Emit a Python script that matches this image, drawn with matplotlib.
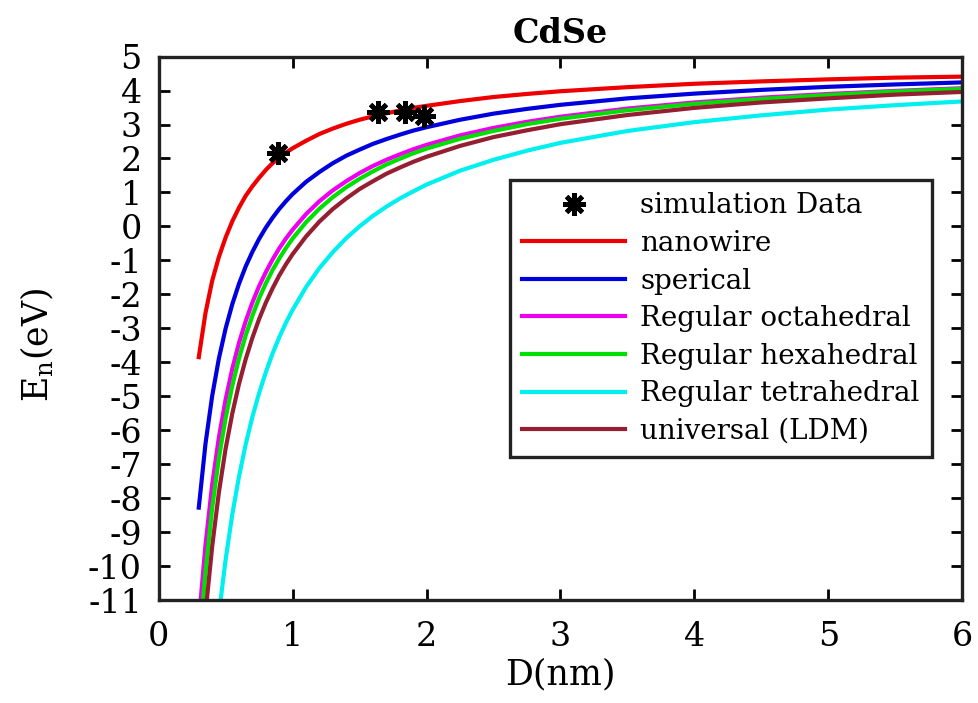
#!/usr/bin/env python3
"""Size dependence of the energy level E_n for CdSe nanostructures."""

import matplotlib
matplotlib.use("Agg")
import matplotlib.pyplot as plt

# values, D in nm and E_n in eV
d_nanowire = [0.30, 0.35, 0.40, 0.45, 0.50, 0.55, 0.60, 0.65, 0.70, 0.75, 0.80, 0.85, 0.90,
              0.95, 1.0, 1.1, 1.2, 1.3, 1.4, 1.5, 1.6, 1.7, 1.8, 1.9, 2.0, 2.25, 2.5, 2.75,
              3.0, 3.5, 4.0, 4.5, 5.0, 5.5, 6.0]
e_nanowire = [-3.85, -2.55, -1.60, -0.90, -0.33, 0.15, 0.55, 0.90, 1.18, 1.43, 1.66, 1.86, 2.02,
              2.17, 2.30, 2.52, 2.72, 2.88, 3.02, 3.14, 3.24, 3.33, 3.41, 3.49, 3.55, 3.69, 3.81, 3.90,
              3.98, 4.10, 4.20, 4.27, 4.33, 4.38, 4.41]

d_spherical = [0.30, 0.35, 0.40, 0.45, 0.50, 0.55, 0.60, 0.65, 0.70, 0.75, 0.80, 0.85, 0.90,
               0.95, 1.0, 1.1, 1.2, 1.3, 1.4, 1.5, 1.6, 1.7, 1.8, 1.9, 2.0, 2.25, 2.5, 2.75,
               3.0, 3.5, 4.0, 4.5, 5.0, 5.5, 6.0]
e_spherical = [-8.28, -6.40, -4.99, -3.89, -3.01, -2.29, -1.69, -1.18, -0.75, -0.37, -0.04, 0.25, 0.51,
               0.74, 0.95, 1.31, 1.60, 1.86, 2.08, 2.26, 2.43, 2.57, 2.70, 2.82, 2.92, 3.14, 3.32, 3.46,
               3.58, 3.77, 3.91, 4.02, 4.11, 4.18, 4.24]

d_octa = [0.314, 0.35, 0.40, 0.45, 0.50, 0.55, 0.60, 0.65, 0.70, 0.75, 0.80, 0.85, 0.90,
          0.95, 1.0, 1.1, 1.2, 1.3, 1.4, 1.5, 1.6, 1.7, 1.8, 1.9, 2.0, 2.25, 2.5, 2.75,
          3.0, 3.5, 4.0, 4.5, 5.0, 5.5, 6.0]
e_octa = [-11.0, -9.38, -7.60, -6.21, -5.10, -4.19, -3.43, -2.79, -2.24, -1.76, -1.35, -0.98, -0.65,
          -0.36, -0.10, 0.36, 0.74, 1.06, 1.33, 1.57, 1.78, 1.96, 2.12, 2.27, 2.40, 2.68, 2.90, 3.08,
          3.23, 3.47, 3.65, 3.79, 3.90, 3.99, 4.07]

d_hexa = [0.332, 0.35, 0.40, 0.45, 0.50, 0.55, 0.60, 0.65, 0.70, 0.75, 0.80, 0.85, 0.90,
          0.95, 1.0, 1.1, 1.2, 1.3, 1.4, 1.5, 1.6, 1.7, 1.8, 1.9, 2.0, 2.25, 2.5, 2.75,
          3.0, 3.5, 4.0, 4.5, 5.0, 5.5, 6.0]
e_hexa = [-11.0, -10.18, -8.29, -6.82, -5.65, -4.69, -3.89, -3.21, -2.63, -2.12, -1.68, -1.29, -0.95,
          -0.64, -0.36, 0.12, 0.52, 0.86, 1.15, 1.40, 1.62, 1.82, 1.99, 2.15, 2.29, 2.58, 2.81, 3.01,
          3.17, 3.42, 3.61, 3.75, 3.87, 3.97, 4.05]

d_tetra = [0.463, 0.50, 0.55, 0.60, 0.65, 0.70, 0.75, 0.80, 0.85, 0.90,
           0.95, 1.0, 1.1, 1.2, 1.3, 1.4, 1.5, 1.6, 1.7, 1.8, 1.9, 2.0, 2.25, 2.5, 2.75,
           3.0, 3.5, 4.0, 4.5, 5.0, 5.5, 6.0]
e_tetra = [-11.0, -9.82, -8.48, -7.37, -6.42, -5.61, -4.91, -4.30, -3.75, -3.27,
           -2.84, -2.46, -1.79, -1.23, -0.76, -0.35, 0.00, 0.31, 0.58, 0.82, 1.03, 1.23, 1.64, 1.96, 2.23,
           2.46, 2.81, 3.07, 3.27, 3.44, 3.57, 3.68]

d_ldm = [0.36, 0.40, 0.45, 0.50, 0.55, 0.60, 0.65, 0.70, 0.75, 0.80, 0.85, 0.90,
         0.95, 1.0, 1.1, 1.2, 1.3, 1.4, 1.5, 1.6, 1.7, 1.8, 1.9, 2.0, 2.25, 2.5, 2.75,
         3.0, 3.5, 4.0, 4.5, 5.0, 5.5, 6.0]
e_ldm = [-11.0, -9.42, -7.83, -6.55, -5.51, -4.64, -3.91, -3.28, -2.73, -2.25, -1.83, -1.45,
         -1.12, -0.82, -0.30, 0.14, 0.51, 0.82, 1.10, 1.33, 1.55, 1.73, 1.90, 2.05, 2.37, 2.63, 2.83,
         3.01, 3.28, 3.49, 3.65, 3.77, 3.88, 3.96]

d_sim = [0.89, 1.64, 1.84, 1.98]
e_sim = [2.17, 3.38, 3.38, 3.24]

plt.rcParams["font.family"] = ["DejaVu Serif"]
plt.rcParams["mathtext.fontset"] = "dejavuserif"
plt.rcParams["axes.unicode_minus"] = False

fig = plt.figure(figsize=(9.79, 7.03), dpi=100)
ax = fig.add_axes([0.162, 0.1465, 0.821, 0.773])

ax.plot(d_sim, e_sim, linestyle="none", marker=(8, 2, 0), markersize=16,
        markeredgewidth=3.4, color="black", label="simulation Data", zorder=5)
ax.plot(d_nanowire, e_nanowire, color="#ee0000", lw=3, label="nanowire")
ax.plot(d_spherical, e_spherical, color="#0000dd", lw=3, label="sperical")
ax.plot(d_octa, e_octa, color="#ee00ee", lw=3, label="Regular octahedral")
ax.plot(d_hexa, e_hexa, color="#00e000", lw=3, label="Regular hexahedral")
ax.plot(d_tetra, e_tetra, color="#00f0f0", lw=3, label="Regular tetrahedral")
ax.plot(d_ldm, e_ldm, color="#961e32", lw=3, label="universal (LDM)")

ax.set_xlim(0, 6)
ax.set_ylim(-11, 5)
ax.set_xticks(range(0, 7))
ax.set_yticks(range(-11, 6))
ax.tick_params(direction="in", length=8, width=2, labelsize=24,
               top=True, right=True)
ax.tick_params(axis="x", pad=15)
ax.tick_params(axis="y", pad=12)
for spine in ax.spines.values():
    spine.set_linewidth(2.4)
    spine.set_color("#222222")

ax.set_xlabel("D(nm)", fontsize=25)
ax.set_ylabel(r"E$_\mathregular{n}$(eV)", fontsize=25)
ax.xaxis.set_label_coords(0.5, -0.105)
ax.yaxis.set_label_coords(-0.128, 0.47)
ax.set_title("CdSe", fontsize=24, fontweight="bold", pad=10)

leg = ax.legend(loc="upper left", bbox_to_anchor=(0.437, 0.773), borderaxespad=0,
                fontsize=20, handlelength=3.7, handletextpad=0.55, labelspacing=0.38,
                borderpad=0.45, frameon=True, fancybox=False, numpoints=1)
leg.get_frame().set_edgecolor("#222222")
leg.get_frame().set_linewidth(2.4)
leg.get_frame().set_alpha(1)

fig.savefig("out.png", dpi=100)
